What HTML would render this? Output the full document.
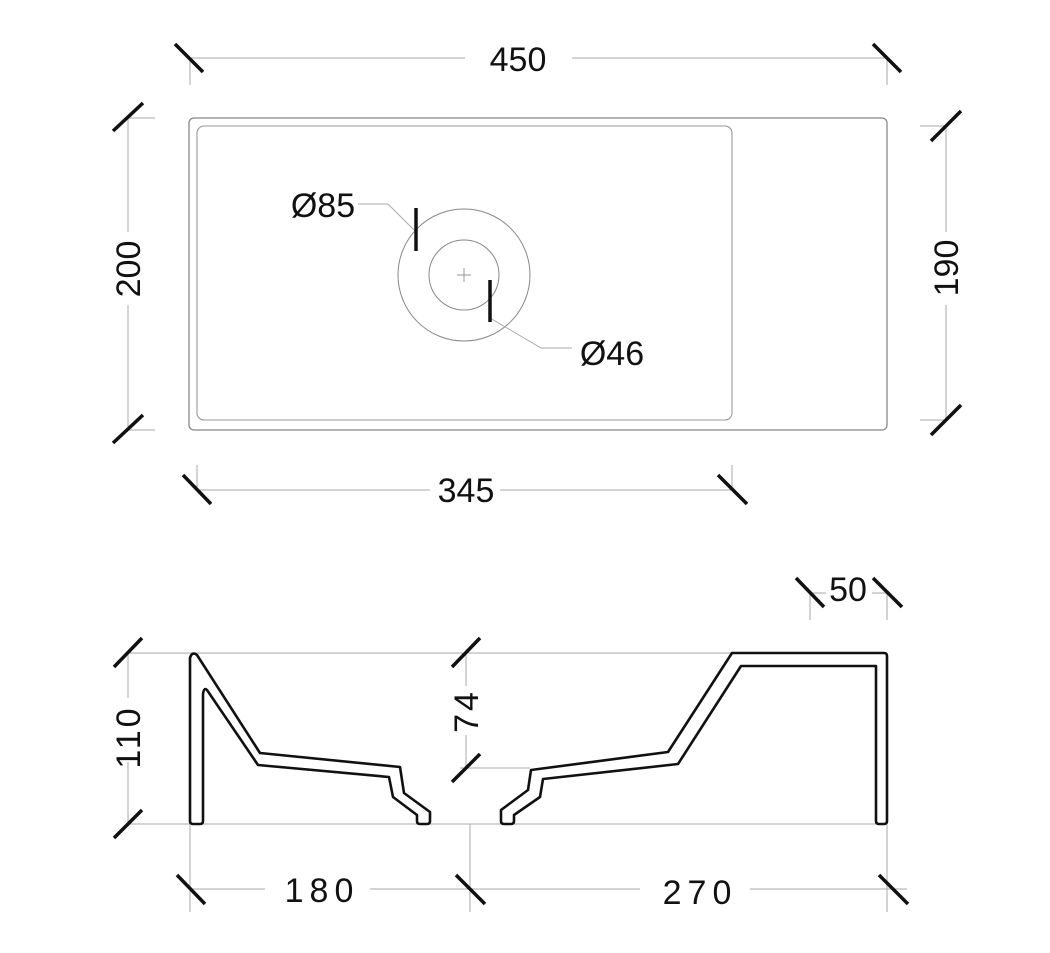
<!DOCTYPE html>
<html><head><meta charset="utf-8"><style>
html,body{margin:0;padding:0;background:#fff;}
svg{display:block;}
text{font-family:"Liberation Sans Narrow","Liberation Sans",sans-serif;font-size:34px;fill:#111;text-anchor:middle;}
.g{stroke:#aaa;stroke-width:1;fill:none;}
.t{stroke:#111;stroke-width:3.5;stroke-linecap:butt;}
.p{fill:#fff;stroke:#111;stroke-width:2.6;stroke-linejoin:round;}
</style></head><body>
<svg width="1050" height="953" viewBox="0 0 1050 953" xmlns="http://www.w3.org/2000/svg">
<rect x="189" y="118" width="698" height="312" rx="5" fill="none" stroke="#888" stroke-width="1.3"/>
<rect x="197" y="126" width="535" height="294" rx="7" fill="none" stroke="#999" stroke-width="1.1"/>
<circle cx="464" cy="275" r="66" fill="none" stroke="#888" stroke-width="1"/>
<circle cx="464" cy="275" r="35" fill="none" stroke="#888" stroke-width="1"/>
<path d="M457 275H471M464 268V282" stroke="#999" stroke-width="1"/>

<path class="g" d="M190 58H465M572 58H887M190 58V85M887 58V85"/>
<line class="t" x1="175" y1="44" x2="203" y2="72"/><line class="t" x1="873" y1="44" x2="901" y2="72"/>
<text x="518" y="71">450</text>
<path class="g" d="M128 118V232M128 305V430M128 118H155M128 430H155"/>
<line class="t" x1="113" y1="131" x2="143" y2="103"/><line class="t" x1="113" y1="443" x2="143" y2="415"/>
<text transform="translate(140,269) rotate(-90)">200</text>
<path class="g" d="M946 126V232M946 305V420M920 126H946M920 420H946"/>
<line class="t" x1="931" y1="141" x2="961" y2="111"/><line class="t" x1="931" y1="435" x2="961" y2="405"/>
<text transform="translate(958,268) rotate(-90)">190</text>
<path class="g" d="M197 490H430M500 490H732M197 465V490M732 465V490"/>
<line class="t" x1="183" y1="475" x2="211" y2="504"/><line class="t" x1="718" y1="475" x2="747" y2="504"/>
<text x="466" y="502">345</text>
<path class="g" d="M358 204H388L416 232"/>
<line class="t" x1="416" y1="208" x2="416" y2="251"/>
<text x="323" y="217">Ø85</text>
<path class="g" d="M490 318L541 348H572"/>
<line class="t" x1="490" y1="280" x2="490" y2="322"/>
<text x="612" y="365">Ø46</text>

<path class="g" d="M128 653H887M128 824H887M460 768H530"/>
<path class="p" d="M190 658Q192 651 197 655L260 753L400 767L404 793L430 812L430 821Q430 824 427 824L420 824Q417 824 417 821L417 815L393 797L389 777L258 765L207 690Q204 687 203 694L203 821Q203 824 200 824L193 824Q190 824 190 821Z"/>
<path class="p" d="M501 821L501 810L528 790L531 770L668 752L732 653L884 653Q887 653 887 656L887 821Q887 824 884 824L879 824Q876 824 876 821L876 666L741 666L678 764L543 779L540 797L514 815L514 821Q514 824 511 824L504 824Q501 824 501 821Z"/>
<path class="g" d="M128 653V698M128 762V824"/>
<line class="t" x1="114" y1="667" x2="142" y2="638"/><line class="t" x1="114" y1="838" x2="142" y2="810"/>
<text transform="translate(140,737) rotate(-90)" letter-spacing="3">110</text>
<path class="g" d="M466 653V686M466 735V768"/>
<line class="t" x1="452" y1="667" x2="480" y2="638"/><line class="t" x1="452" y1="782" x2="480" y2="754"/>
<text transform="translate(478,711) rotate(-90)" letter-spacing="3">74</text>
<path class="g" d="M810 593V620M887 593V620M810 593H826M872 593H887"/>
<line class="t" x1="796" y1="578" x2="824" y2="607"/><line class="t" x1="873" y1="578" x2="902" y2="607"/>
<text x="848" y="601">50</text>
<path class="g" d="M190 889H265M370 889H470M470 889H640M750 889H907M190 824V912M470 824V912M887 824V912"/>
<line class="t" x1="177" y1="875" x2="205" y2="904"/><line class="t" x1="456" y1="875" x2="485" y2="904"/><line class="t" x1="879" y1="875" x2="908" y2="904"/>
<text x="322" y="902" letter-spacing="6">180</text>
<text x="700" y="904" letter-spacing="6">270</text>
</svg>
</body></html>
